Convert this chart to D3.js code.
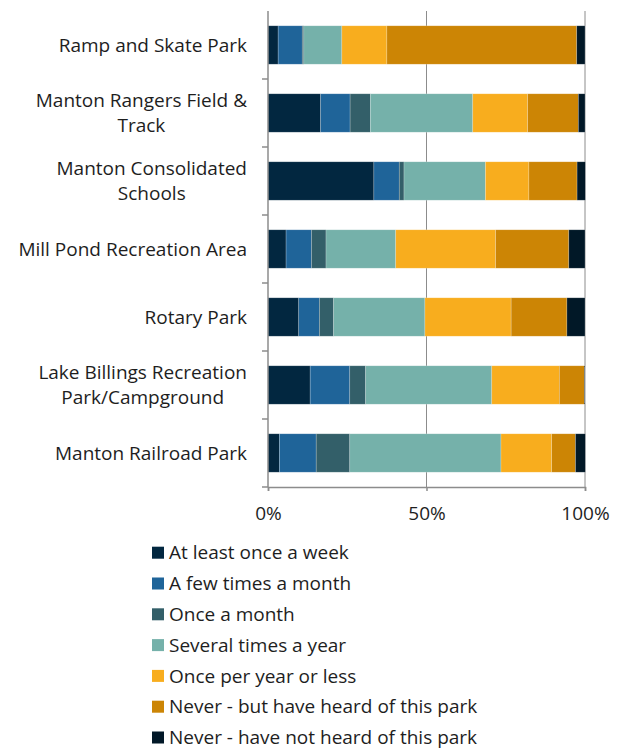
<!DOCTYPE html>
<html>
<head>
<meta charset="utf-8">
<script src="https://cdn.jsdelivr.net/npm/d3@7"></script>
<style>
  body { margin: 0; background: #fff; }
  text { font-family: "Open Sans", sans-serif; fill: #1e1e1e; }
</style>
</head>
<body>
<div id="chart"></div>
<script>
// parks, top to bottom
const parks = [
  "Ramp and Skate Park",
  "Manton Rangers Field & Track",
  "Manton Consolidated Schools",
  "Mill Pond Recreation Area",
  "Rotary Park",
  "Lake Billings Recreation Park/Campground",
  "Manton Railroad Park"
]
// wrapped labels as they appear
const parkLabels = [
  ["Ramp and Skate Park"],
  ["Manton Rangers Field &", "Track"],
  ["Manton Consolidated", "Schools"],
  ["Mill Pond Recreation Area"],
  ["Rotary Park"],
  ["Lake Billings Recreation", "Park/Campground"],
  ["Manton Railroad Park"]
]
const answers = [
  "At least once a week",
  "A few times a month",
  "Once a month",
  "Several times a year",
  "Once per year or less",
  "Never - but have heard of this park",
  "Never - have not heard of this park"
]
const colors = ["#022740", "#1f6499", "#335f69", "#75b1aa", "#f8ad1e", "#cc8505", "#011827"]

// percent per answer, one value per park (same order as parks)
const atLeastWeekly   = [3.2, 16.6, 33.4, 5.7, 9.7, 13.3, 3.6]
const fewTimesMonth   = [7.6, 9.3, 8.0, 8.0, 6.5, 12.5, 11.6]
const onceMonth       = [0.5, 6.4, 1.5, 4.6, 4.5, 5.0, 10.6]
const severalYear     = [12.0, 32.3, 25.7, 22.0, 28.8, 39.8, 47.7]
const oncePerYear     = [14.2, 17.3, 13.7, 31.5, 27.2, 21.3, 16.0]
const neverHeard      = [59.9, 16.0, 15.2, 23.1, 17.6, 7.9, 7.5]
const neverNotHeard   = [2.6, 2.1, 2.6, 5.1, 5.7, 0.2, 3.1]
const series = [atLeastWeekly, fewTimesMonth, onceMonth, severalYear, oncePerYear, neverHeard, neverNotHeard]

const xTicks = [0, 50, 100]

const width = 619, height = 750
const margin = { left: 268, right: 34, top: 11, bottom: 263 }
const fontSize = 19

const table = parks.map((p, i) => {
  const row = { park: p }
  answers.forEach((a, j) => { row[a] = series[j][i] })
  return row
})
const stacked = d3.stack().keys(answers)(table)

const svg = d3.select('#chart').append('svg')
  .attr('width', width)
  .attr('height', height)

const x = d3.scaleLinear().domain([0, 100]).range([margin.left, width - margin.right])
const y = d3.scaleBand().domain(parks).range([margin.top, height - margin.bottom]).paddingInner(0.435).paddingOuter(0.2175)

// gridlines
svg.append('g').selectAll('line')
  .data(xTicks.slice(1))
  .enter().append('line')
    .attr('x1', d => x(d)).attr('x2', d => x(d))
    .attr('y1', margin.top).attr('y2', height - margin.bottom)
    .attr('stroke', '#8c8c8c')
    .attr('stroke-width', 1)

// bars
svg.append('g').selectAll('g')
  .data(stacked)
  .enter().append('g')
    .attr('fill', (d, i) => colors[i])
  .selectAll('rect')
  .data(d => d)
  .enter().append('rect')
    .attr('x', d => x(d[0]))
    .attr('y', d => y(d.data.park))
    .attr('width', d => Math.max(0, x(d[1]) - x(d[0])))
    .attr('height', y.bandwidth())
    .attr('stroke', 'rgba(255,255,255,0.35)')
    .attr('stroke-width', 0.6)

// y axis with ticks between categories
const yAxis = svg.append('g')
const step = y.step()
const boundaries = d3.range(parks.length + 1).map(i => margin.top + i * step)
yAxis.append('line')
  .attr('x1', margin.left).attr('x2', margin.left)
  .attr('y1', margin.top).attr('y2', height - margin.bottom)
  .attr('stroke', '#8c8c8c').attr('stroke-width', 1.5)
yAxis.selectAll('.tk')
  .data(boundaries.slice(1))
  .enter().append('line')
    .attr('x1', margin.left - 6).attr('x2', margin.left)
    .attr('y1', d => d).attr('y2', d => d)
    .attr('stroke', '#8c8c8c').attr('stroke-width', 1.5)

// category labels: block right aligned, lines centred
const labelRight = 247
parks.forEach((p, i) => {
  const lines = parkLabels[i]
  const cy = y(p) + y.bandwidth() / 2
  const g = svg.append('g')
  const texts = lines.map((l, k) => g.append('text')
    .attr('font-size', fontSize)
    .attr('text-anchor', 'middle')
    .attr('dy', '0.35em')
    .attr('y', cy + (k - (lines.length - 1) / 2) * 25)
    .text(l))
  const w = d3.max(texts, t => t.node().getComputedTextLength())
  texts.forEach(t => t.attr('x', labelRight - w / 2))
})

// x axis
const xAxis = svg.append('g')
  .attr('transform', 'translate(0,' + (height - margin.bottom) + ')')
  .call(d3.axisBottom(x).tickValues(xTicks).tickFormat(d => d + '%').tickSize(4).tickPadding(16))
xAxis.select('.domain').attr('stroke', '#8c8c8c').attr('stroke-width', 1.5)
xAxis.selectAll('.tick line').attr('stroke', '#8c8c8c').attr('stroke-width', 1.5)
xAxis.selectAll('.tick text').attr('font-size', fontSize).attr('font-family', '"Open Sans", sans-serif').attr('fill', '#1e1e1e')

// legend
const legend = svg.append('g').selectAll('g')
  .data(answers)
  .enter().append('g')
    .attr('transform', (d, i) => 'translate(152,' + (552.7 + i * 30.8) + ')')
legend.append('rect')
  .attr('x', 0).attr('y', -6).attr('width', 12).attr('height', 12)
  .attr('fill', (d, i) => colors[i])
legend.append('text')
  .attr('x', 17).attr('dy', '0.35em')
  .attr('font-size', fontSize)
  .text(d => d)
</script>
</body>
</html>
